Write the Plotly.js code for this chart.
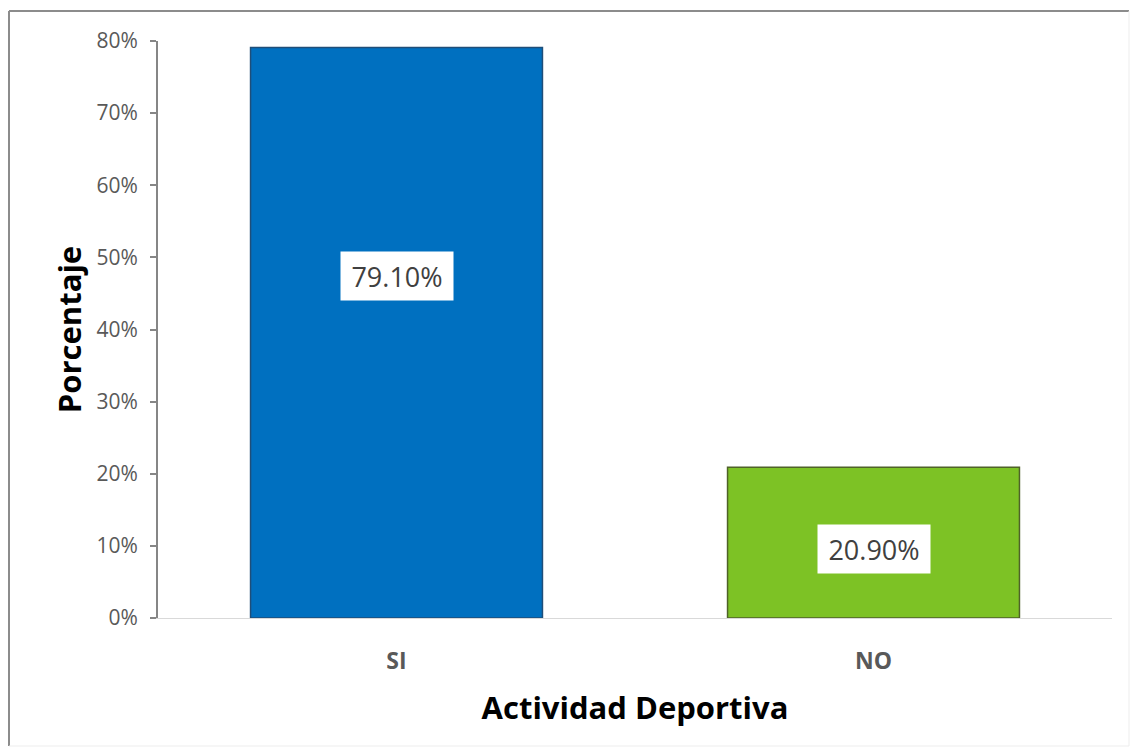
<!DOCTYPE html>
<html>
<head>
<meta charset="utf-8">
<script src="https://cdn.plot.ly/plotly-3.0.1.min.js"></script>
<style>html,body{margin:0;padding:0;background:#fff;}#chart{width:1134px;height:749px;}</style>
</head>
<body>
<div id="chart"></div>
<script>
const categories = ["SI", "NO"];
const values = [79.1, 20.9];
const barColors = ["#0070C0", "#7DC225"];
const barLineColors = ["#1F4E79", "#4F6228"];
const yTickVals = [0, 10, 20, 30, 40, 50, 60, 70, 80];
const yTickText = ["0%", "10%", "20%", "30%", "40%", "50%", "60%", "70%", "80%"];
const xTitle = "Actividad Deportiva";
const yTitle = "Porcentaje";

const FONT = "'Open Sans', sans-serif";
const M = {l: 158, r: 22, t: 41, b: 131};
const PW = 1134 - M.l - M.r, PH = 749 - M.t - M.b;
const px2x = p => (p - M.l) / PW;
const py2y = p => (749 - M.b - p) / PH;

const labelY = [47.4, 9.5];
const annotations = categories.map((c, i) => ({
  x: c, y: labelY[i], xref: 'x', yref: 'y',
  text: values[i].toFixed(2) + '%', showarrow: false,
  bgcolor: '#ffffff', borderpad: 7, width: 98, height: 34,
  font: {family: FONT, size: 27, color: '#404040'}
}));

const trace = {
  type: 'bar', x: categories, y: values,
  marker: {color: barColors, line: {color: barLineColors, width: 1.5}},
  hoverinfo: 'none'
};

const layout = {
  width: 1134, height: 749,
  margin: M,
  paper_bgcolor: '#ffffff', plot_bgcolor: '#ffffff',
  showlegend: false,
  bargap: 0.388,
  font: {family: FONT},
  xaxis: {
    type: 'category',
    showline: true, linecolor: '#D9D9D9', linewidth: 1,
    ticks: '', showgrid: false, zeroline: false,
    tickfont: {family: FONT, size: 23, color: '#595959', weight: 'bold'},
    ticklabelstandoff: 22,
    title: {text: xTitle, standoff: 22, font: {family: FONT, size: 31, color: '#000000', weight: 'bold'}},
    automargin: false, fixedrange: true
  },
  yaxis: {
    range: [0, 80],
    tickvals: yTickVals, ticktext: yTickText,
    showline: true, linecolor: '#868686', linewidth: 2,
    ticks: 'outside', ticklen: 6, tickcolor: '#868686', tickwidth: 2,
    showgrid: false, zeroline: false,
    tickfont: {family: FONT, size: 21, color: '#595959'},
    ticklabelstandoff: 8,
    title: {text: yTitle, standoff: 6, font: {family: FONT, size: 31, color: '#000000', weight: 'bold'}},
    automargin: false, fixedrange: true
  },
  annotations: annotations,
  shapes: [
    {type: 'line', xref: 'paper', yref: 'paper', x0: px2x(9), x1: px2x(1129), y0: py2y(11), y1: py2y(11), line: {color: '#8C8C8C', width: 2}},
    {type: 'line', xref: 'paper', yref: 'paper', x0: px2x(9), x1: px2x(9), y0: py2y(11), y1: py2y(746), line: {color: '#8C8C8C', width: 2}},
    {type: 'line', xref: 'paper', yref: 'paper', x0: px2x(1129), x1: px2x(1129), y0: py2y(11), y1: py2y(746), line: {color: '#EDEDED', width: 1}},
    {type: 'line', xref: 'paper', yref: 'paper', x0: px2x(9), x1: px2x(1129), y0: py2y(746), y1: py2y(746), line: {color: '#EDEDED', width: 1}}
  ]
};

Plotly.newPlot('chart', [trace], layout, {displayModeBar: false, staticPlot: true});
</script>
</body>
</html>
